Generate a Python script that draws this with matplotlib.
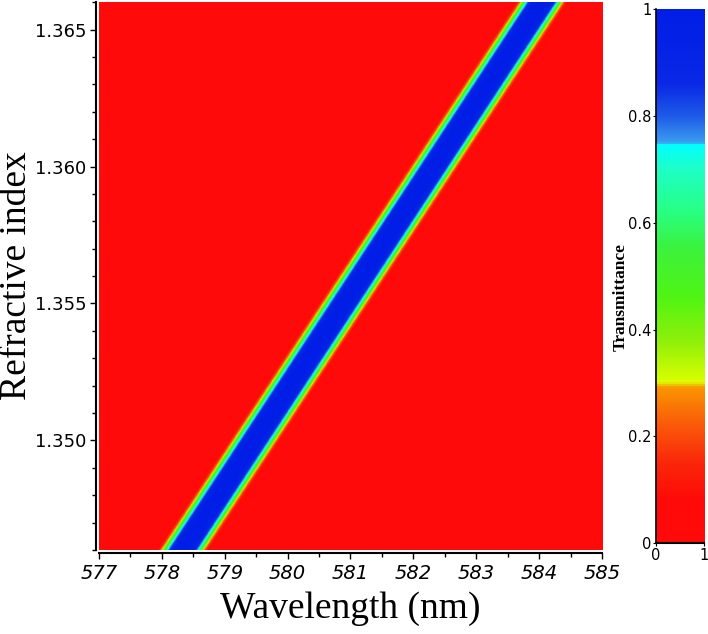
import matplotlib
matplotlib.use("Agg")
import matplotlib.pyplot as plt
import numpy as np
from matplotlib.colors import LinearSegmentedColormap
from matplotlib.ticker import MultipleLocator

# axis ranges
WL_RANGE = (577.0, 585.0)
N_RANGE = (1.346, 1.366)

# resonance centre read at the bottom and top edges of the map
RES_WL_BOTTOM = 578.33
RES_WL_TOP = 584.03

# flat-topped dip: half width (nm) and steepness
RES_HALF_WIDTH = 0.318
RES_ORDER = 4

X_TICKS = [577, 578, 579, 580, 581, 582, 583, 584, 585]
Y_TICKS = [1.350, 1.355, 1.360, 1.365]
CBAR_TICKS = [0, 0.2, 0.4, 0.6, 0.8, 1]
CBAR_LABELS = ["0", "0.2", "0.4", "0.6", "0.8", "1"]

# colour scheme of the colour bar (position, rgb)
CMAP_STOPS = [
    (0.00, "#ff0a0a"),
    (0.08, "#ff0a08"),
    (0.15, "#fa280a"),
    (0.22, "#fa5a0a"),
    (0.29, "#fa9600"),
    (0.30, "#dcff00"),
    (0.38, "#8cf00a"),
    (0.46, "#50f514"),
    (0.55, "#3cf23c"),
    (0.62, "#28ff82"),
    (0.70, "#1effc8"),
    (0.745, "#00ffff"),
    (0.75, "#3c9cf0"),
    (0.80, "#1e5ae8"),
    (0.86, "#0a28e6"),
    (1.00, "#001ee6"),
]

cmap = LinearSegmentedColormap.from_list("maple_like", CMAP_STOPS)

wl = np.linspace(WL_RANGE[0], WL_RANGE[1], 900)
n = np.linspace(N_RANGE[0], N_RANGE[1], 700)
WL, N = np.meshgrid(wl, n)
res = RES_WL_BOTTOM + (RES_WL_TOP - RES_WL_BOTTOM) * (N - N_RANGE[0]) / (N_RANGE[1] - N_RANGE[0])
T = np.exp(-np.abs((WL - res) / RES_HALF_WIDTH) ** RES_ORDER)

fig = plt.figure(figsize=(7.08, 6.34), dpi=100)
ax = fig.add_axes([0.1398, 0.1325, 0.7105, 0.864])
# spines first: moving a spine resets the ticks
for side in ("top", "right"):
    ax.spines[side].set_visible(False)
for side in ("left", "bottom"):
    ax.spines[side].set_position(("outward", 2))
    ax.spines[side].set_linewidth(1.5)

ax.imshow(T, extent=[*WL_RANGE, *N_RANGE], origin="lower", aspect="auto",
          cmap=cmap, vmin=0, vmax=1, interpolation="bilinear")
ax.set_xlim(*WL_RANGE)
ax.set_ylim(*N_RANGE)
ax.xaxis.set_minor_locator(MultipleLocator(0.5))
ax.yaxis.set_minor_locator(MultipleLocator(0.001))
ax.tick_params(which="both", direction="out", length=4, width=1)
ax.tick_params(which="minor", length=3)
ax.tick_params(axis="x", pad=4)
ax.tick_params(axis="y", pad=3)
ax.set_xticks(X_TICKS)
ax.set_xticklabels([str(v) for v in X_TICKS], family="DejaVu Sans",
                   fontstyle="italic", fontsize=14)
ax.set_yticks(Y_TICKS)
ax.set_yticklabels([f"{v:.3f}" for v in Y_TICKS], family="DejaVu Sans", fontsize=13)
ax.set_xlabel("Wavelength (nm)", family="Liberation Serif", fontsize=27)
ax.set_ylabel("Refractive index", family="Liberation Serif", fontsize=27)
ax.xaxis.set_label_coords(0.5, -0.075)
ax.yaxis.set_label_coords(-0.13, 0.5)

# colour bar drawn as its own small plot
cax = fig.add_axes([0.926, 0.143, 0.068, 0.843])
for side in ("top", "right"):
    cax.spines[side].set_visible(False)
cax.spines["left"].set_linewidth(1.2)
cax.spines["bottom"].set_linewidth(1.5)
grad = np.linspace(0, 1, 512).reshape(-1, 1)
cax.imshow(grad, extent=[0, 1, 0, 1], origin="lower", aspect="auto", cmap=cmap)
cax.set_xlim(0, 1)
cax.set_ylim(0, 1)
cax.tick_params(direction="out", length=2, pad=1)
cax.set_xticks([0, 1])
cax.set_xticklabels(["0", "1"], family="DejaVu Sans", fontsize=10.5)
cax.set_yticks(CBAR_TICKS)
cax.set_yticklabels(CBAR_LABELS, family="DejaVu Sans", fontsize=10.5)
cax.set_ylabel("Transmittance", family="Liberation Serif", fontweight="bold",
               fontsize=12.5)
cax.yaxis.set_label_coords(-0.56, 0.46)

fig.savefig("out.png", dpi=100)
